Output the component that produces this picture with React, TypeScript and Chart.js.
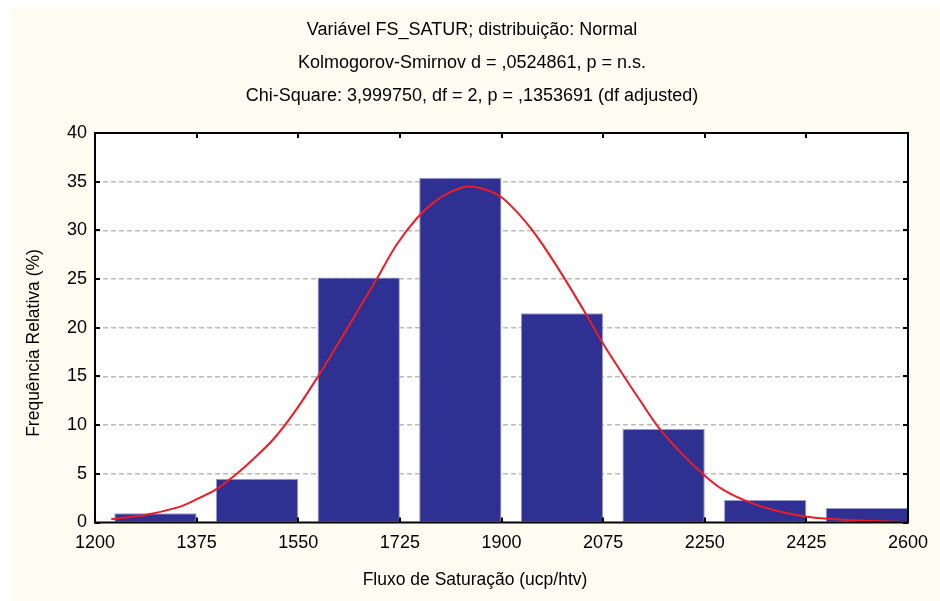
import React, { useEffect, useRef } from "react";
import { Chart, registerables } from "chart.js";

Chart.register(...registerables);

// ---- data ----
const binStarts = [1200, 1375, 1550, 1725, 1900, 2075, 2250, 2425];
const binWidth = 175;
const relFreq = [0.95, 4.5, 25.15, 35.4, 21.5, 9.6, 2.3, 1.5];

const curveX = [
  1228, 1286, 1344, 1372, 1407, 1441, 1476, 1508, 1542, 1582, 1622, 1656, 1685,
  1719, 1755, 1784, 1811, 1841, 1872, 1900, 1928, 1952, 1978, 2007, 2047, 2075,
  2110, 2139, 2170, 2210, 2252, 2282, 2322, 2368, 2426, 2495, 2598,
];
const curveY = [
  0.35, 0.77, 1.58, 2.3, 3.35, 4.85, 6.7, 8.6, 11.2, 14.8, 18.7, 22.1, 25.0,
  28.5, 31.3, 32.9, 33.9, 34.5, 34.2, 33.4, 31.8, 30.1, 27.9, 25.2, 21.25, 18.35,
  15.1, 12.5, 9.8, 7.1, 4.7, 3.35, 2.2, 1.28, 0.6, 0.26, 0.05,
];

const xTicks = [1200, 1375, 1550, 1725, 1900, 2075, 2250, 2425, 2600];
const yTicks = [0, 5, 10, 15, 20, 25, 30, 35, 40];

const titleLines = [
  "Variável FS_SATUR; distribuição: Normal",
  "Kolmogorov-Smirnov d = ,0524861, p = n.s.",
  "Chi-Square: 3,999750, df = 2, p = ,1353691 (df adjusted)",
];
const xTitle = "Fluxo de Saturação (ucp/htv)";
const yTitle = "Frequência Relativa (%)";

const BAR_FRAC = 0.81;
const FONT = '"Liberation Sans", Arial, Helvetica, sans-serif';

const framePlugin = {
  id: "frameAndText",
  beforeDraw(chart: any) {
    const { ctx, chartArea: a } = chart;
    ctx.save();
    ctx.fillStyle = "#ffffff";
    ctx.fillRect(a.left, a.top, a.right - a.left, a.bottom - a.top);
    ctx.restore();
  },
  afterDraw(chart: any) {
    const { ctx, chartArea: a, scales } = chart;
    const x = scales.x;
    const y = scales.y;
    ctx.save();
    ctx.strokeStyle = "#000000";
    ctx.lineWidth = 2;
    ctx.strokeRect(a.left, a.top, a.right - a.left, a.bottom - a.top);
    ctx.beginPath();
    for (const v of xTicks) {
      const px = Math.round(x.getPixelForValue(v));
      ctx.moveTo(px, a.bottom);
      ctx.lineTo(px, a.bottom - 5);
      ctx.moveTo(px, a.top);
      ctx.lineTo(px, a.top + 5);
    }
    for (const v of yTicks) {
      const py = Math.round(y.getPixelForValue(v));
      ctx.moveTo(a.left, py);
      ctx.lineTo(a.left + 5, py);
      ctx.moveTo(a.right, py);
      ctx.lineTo(a.right - 5, py);
    }
    ctx.stroke();

    ctx.fillStyle = "#000000";
    ctx.font = `18px ${FONT}`;
    ctx.textAlign = "center";
    ctx.textBaseline = "middle";
    const cx = chart.width / 2 - 3;
    titleLines.forEach((t, i) => ctx.fillText(t, cx, 23 + i * 33));

    ctx.font = `17.5px ${FONT}`;
    ctx.fillText(xTitle, chart.width / 2, 573);
    ctx.translate(24, 336);
    ctx.rotate(-Math.PI / 2);
    ctx.fillText(yTitle, 0, 0);
    ctx.restore();
  },
};

export default function App() {
  const ref = useRef<HTMLCanvasElement | null>(null);

  useEffect(() => {
    if (!ref.current) return;
    const barData = binStarts.map((s, i) => ({
      x: s + binWidth * (1 - BAR_FRAC / 2),
      y: relFreq[i],
    }));
    const lineData = curveX.map((v, i) => ({ x: v, y: curveY[i] }));

    const chart = new Chart(ref.current, {
      type: "bar",
      data: {
        datasets: [
          {
            type: "line",
            data: lineData,
            borderColor: "#ED1C24",
            borderWidth: 2,
            pointRadius: 0,
            tension: 0.3,
            fill: false,
            order: 1,
          } as any,
          {
            type: "bar",
            data: barData,
            backgroundColor: "#2E3192",
            borderColor: "#9A9ACF",
            borderWidth: 1,
            barPercentage: 1,
            categoryPercentage: BAR_FRAC,
            order: 2,
          } as any,
        ],
      },
      options: {
        animation: false,
        responsive: false,
        devicePixelRatio: 1,
        layout: { padding: { top: 126, left: 0, right: 32, bottom: 0 } },
        plugins: {
          legend: { display: false },
          tooltip: { enabled: false },
          title: { display: false },
        },
        scales: {
          x: {
            type: "linear",
            min: 1200,
            max: 2600,
            offset: false,
            afterFit: (s: any) => {
              s.height = 78.5;
            },
            afterBuildTicks: (s: any) => {
              s.ticks = xTicks.map((v) => ({ value: v }));
            },
            ticks: {
              autoSkip: false,
              maxRotation: 0,
              padding: 10,
              color: "#000",
              font: { size: 18, family: FONT },
              callback: (v: any) => String(v),
            },
            grid: { display: false, drawTicks: false, offset: false },
            border: { display: false },
          },
          y: {
            min: 0,
            max: 40,
            afterFit: (s: any) => {
              s.width = 85;
            },
            ticks: {
              stepSize: 5,
              padding: 8,
              color: "#000",
              font: { size: 18, family: FONT },
            },
            grid: {
              drawTicks: false,
              lineWidth: 1.5,
              color: (c: any) =>
                c.tick && (c.tick.value === 0 || c.tick.value === 40)
                  ? "rgba(0,0,0,0)"
                  : "#BBBBBB",
            },
            border: { display: false, dash: [5, 3] },
          },
        },
      } as any,
      plugins: [framePlugin],
    });
    return () => chart.destroy();
  }, []);

  return (
    <div
      style={{
        position: "absolute",
        left: 10,
        top: 7,
        width: 930,
        height: 594,
        background: "#FEFCF0",
      }}
    >
      <canvas ref={ref} width={930} height={594} />
    </div>
  );
}
